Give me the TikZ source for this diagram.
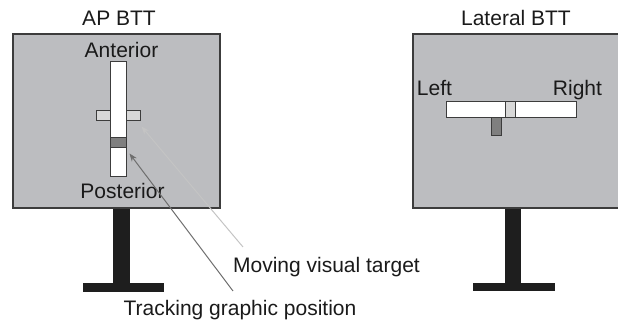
\documentclass[tikz,border=0pt]{standalone}
\usepackage{fontspec}
\setmainfont{Liberation Sans}
\usetikzlibrary{arrows.meta}
\definecolor{screen}{HTML}{BCBDC0}
\definecolor{frame}{HTML}{3C3C3C}
\definecolor{stand}{HTML}{1E1E1E}
\definecolor{target}{HTML}{D8D8D8}
\definecolor{cursor}{HTML}{7F7F7F}
\definecolor{lightline}{HTML}{C4C4C4}
\definecolor{darkline}{HTML}{6E6E6E}
\definecolor{ink}{HTML}{1A1A1A}

\begin{document}
\begin{tikzpicture}[x=0.5pt, y=-0.5pt,
    panel/.style={draw=frame, fill=screen, line width=0.7pt},
    bar/.style={rectangle, draw=frame, fill=white, line width=0.5pt, inner sep=0pt},
    markbox/.style={rectangle, draw=frame, line width=0.5pt, inner sep=0pt},
    label/.style={font=\fontsize{10.5}{12}\selectfont, text=ink, anchor=base, inner sep=0pt}]
    \useasboundingbox (0,0) rectangle (618,320);

    % AP BTT
    \fill[stand] (113,207) rectangle (130,286);
    \fill[stand] (83,283) rectangle (164,292);
    \draw[panel] (13,34) rectangle (220,208);
    \node[label] (aptitle) at (119,26) {AP BTT};
    \node[label] (ant) at (121.5,58) {Anterior};
    \node[label] (post) at (122.5,199) {Posterior};
    \node[markbox, fill=target, minimum width=22pt, minimum height=5pt] (cross) at (119,116) {};
    \node[bar, minimum width=8pt, minimum height=57.5pt] (apbar) at (119,119.5) {};
    \node[markbox, fill=cursor, minimum width=8pt, minimum height=5pt] (aptrack) at (119,143) {};

    % Lateral BTT
    \fill[stand] (505,207) rectangle (521,286);
    \fill[stand] (473,283) rectangle (555,291);
    \draw[panel] (413,34) rectangle (620,208);
    \node[label] (lattitle) at (516,26) {Lateral BTT};
    \node[label] (left) at (434.5,96) {Left};
    \node[label] (right) at (577.5,96) {Right};
    \node[bar, minimum width=65pt, minimum height=8pt] (latbar) at (512,110) {};
    \node[markbox, fill=target, minimum width=5pt, minimum height=8pt] (latgoal) at (511,110) {};
    \node[markbox, fill=cursor, minimum width=5pt, minimum height=9pt] (lattrack) at (497,127) {};

    % callouts
    \node[label] (movlabel) at (326.5,273) {Moving visual target};
    \node[label] (tracklabel) at (240,316) {Tracking graphic position};
    \coordinate (movtail) at (243,247);
    \coordinate (tracktail) at (233,291);
    \draw[-{Stealth[length=4pt,width=3pt]}, lightline, line width=0.5pt] (movtail) -- ([yshift=-2.5pt]cross.south east);
    \draw[-{Stealth[length=4pt,width=3pt]}, darkline, line width=0.5pt] (tracktail) -- ([shift={(1pt,-2.5pt)}]aptrack.south east);
\end{tikzpicture}
\end{document}
